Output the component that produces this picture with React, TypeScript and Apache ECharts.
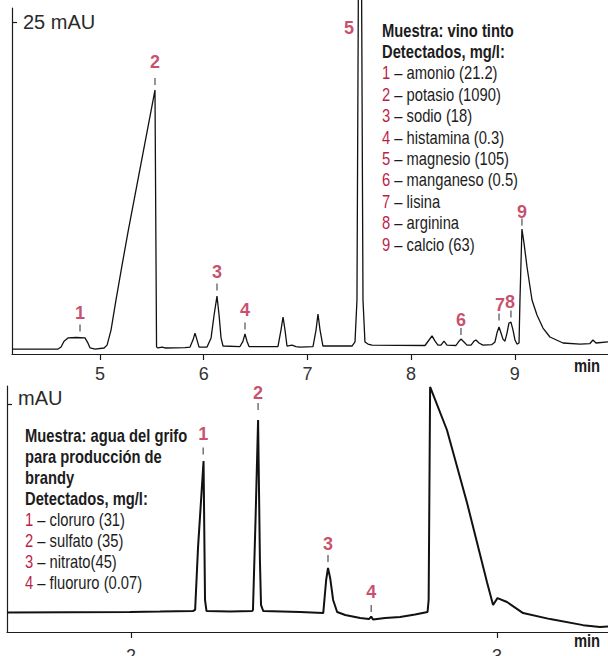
import React, { useEffect, useRef } from 'react';
import * as echarts from 'echarts';

// ---- Top chromatogram: red wine (time in min, signal in mAU) ----
const wineTrace: [number, number][] = [
  [4.151, 0], [4.595, 0], [4.624, 0.15], [4.653, 0.6], [4.691, 0.85], [4.769, 0.88], [4.855, 0.85],
  [4.884, 0.45], [4.904, 0.08], [4.952, 0], [5.039, 0.08], [5.068, 0.3], [5.106, 1.45], [5.154, 3.75],
  [5.212, 6.4], [5.27, 8.95], [5.53, 19.8], [5.545, 0.15], [5.559, 0.08], [5.598, 0.15], [5.627, 0.08],
  [5.82, 0.1], [5.868, 0.15], [5.897, 0.7], [5.916, 1.22], [5.935, 0.7], [5.955, 0.15], [6.032, 0.15],
  [6.071, 0.85], [6.1, 2.6], [6.128, 4.05], [6.148, 2.6], [6.167, 0.85], [6.186, 0.23], [6.35, 0.19],
  [6.379, 0.6], [6.398, 1.15], [6.417, 0.6], [6.437, 0.19], [6.716, 0.19], [6.745, 1.45], [6.765, 2.45],
  [6.784, 1.45], [6.803, 0.23], [6.851, 0.3], [6.89, 0.19], [6.929, 0.15], [7.054, 0.19], [7.083, 1.45],
  [7.102, 2.68], [7.122, 1.45], [7.15, 0.23], [7.43, 0.23], [7.459, 0.54], [7.478, 3.75], [7.491, 26.68],
  [7.505, 32.8], [7.523, 26.68], [7.536, 3.75], [7.555, 0.54], [7.584, 0.38], [7.623, 0.3], [8.134, 0.27],
  [8.173, 0.69], [8.202, 1.0], [8.231, 0.6], [8.259, 0.3], [8.288, 0.3], [8.317, 0.6], [8.346, 0.3],
  [8.433, 0.27], [8.462, 0.6], [8.481, 0.76], [8.51, 0.54], [8.539, 0.3], [8.578, 0.3], [8.607, 0.6],
  [8.626, 0.69], [8.655, 0.46], [8.693, 0.3], [8.78, 0.34], [8.809, 0.54], [8.828, 1.22], [8.848, 1.68],
  [8.867, 1.22], [8.886, 0.76], [8.905, 0.6], [8.925, 1.22], [8.944, 1.99], [8.963, 2.06], [8.983, 1.45],
  [9.002, 0.69], [9.021, 0.38], [9.041, 0.46], [9.05, 3.75], [9.069, 9.17], [9.089, 8.1], [9.118, 6.27],
  [9.166, 3.75], [9.214, 2.6], [9.272, 1.6], [9.339, 0.92], [9.465, 0.46], [9.629, 0.38], [9.725, 0.42],
  [9.754, 0.69], [9.783, 0.46], [9.899, 0.54],
];
const winePeakIds = ['1', '2', '3', '4', '5', '6', '7', '8', '9'];
const wineLabelPos: [number, number][] = [
  [4.807, 2.79], [5.53, 21.98], [6.128, 5.89], [6.398, 3.02], [7.401, 24.54],
  [8.481, 2.22], [8.857, 3.36], [8.954, 3.59], [9.069, 10.47],
];
const wineDashPos: [number, number][] = [
  [4.807, 1.61], [5.53, 20.45], [6.128, 4.74], [6.398, 1.76],
  [8.481, 1.34], [8.848, 2.45], [8.963, 2.68], [9.069, 9.71],
];
const wineTicks = [5, 6, 7, 8, 9];
const wineYTick = [25];
const wineHeader = ['Muestra: vino tinto', 'Detectados, mg/l:'];
const wineItems = [
  'amonio (21.2)', 'potasio (1090)', 'sodio (18)', 'histamina (0.3)', 'magnesio (105)',
  'manganeso (0.5)', 'lisina', 'arginina', 'calcio (63)',
];

// ---- Bottom chromatogram: tap water ----
const waterTrace: [number, number][] = [
  [1.661, -0.02], [1.997, 0], [2.079, 0.02], [2.169, 0.05], [2.175, 0.1], [2.183, 3.13], [2.193, 5.87],
  [2.198, 7.26], [2.202, 0.58], [2.206, 0.05], [2.27, 0.02], [2.331, 0.05], [2.333, 0.1], [2.34, 4.42],
  [2.347, 9.23], [2.352, 2.5], [2.355, 0.34], [2.361, 0.05], [2.462, 0], [2.525, -0.05], [2.527, 0.34],
  [2.533, 1.54], [2.538, 2.12], [2.544, 1.63], [2.552, 0.58], [2.563, 0], [2.585, -0.14], [2.626, -0.29],
  [2.65, -0.34], [2.656, -0.22], [2.661, -0.36], [2.694, -0.29], [2.735, -0.24], [2.776, -0.12], [2.81, 0],
  [2.813, 0.58], [2.817, 10.82], [2.863, 8.75], [2.918, 5.24], [2.973, 1.39], [2.989, 0.34], [3.001, 0.67],
  [3.027, 0.48], [3.071, -0.05], [3.145, -0.34], [3.235, -0.63], [3.281, -0.72], [3.303, -0.7],
];
const waterPeakIds = ['1', '2', '3', '4'];
const waterLabelPos: [number, number][] = [[2.197, 8.56], [2.347, 10.55], [2.538, 3.29], [2.656, 0.94]];
const waterDashPos: [number, number][] = [[2.197, 7.74], [2.347, 9.88], [2.538, 2.57], [2.656, 0.17]];
const waterTicks = [2, 3];
const waterYTick = [10];
const waterHeader = ['Muestra: agua del grifo', 'para producción de', 'brandy', 'Detectados, mg/l:'];
const waterItems = ['cloruro (31)', 'sulfato (35)', 'nitrato(45)', 'fluoruro (0.07)'];

const RED = '#bb1f47';
const INK = '#1c1c1c';
const SANS = '"Liberation Sans", Arial, sans-serif';
const NARROW_SCALE = 0.82;

function legendBlock(x: number, y0: number, step: number, header: string[], ids: string[], items: string[]) {
  const els: any[] = [];
  header.forEach((h, i) => {
    els.push({
      type: 'text', x, y: y0 + i * step, scaleX: NARROW_SCALE, silent: true,
      style: { text: h, fontSize: 18, fontFamily: SANS, fontWeight: 'bold', fill: INK, verticalAlign: 'middle' },
    });
  });
  items.forEach((it, i) => {
    els.push({
      type: 'text', x, y: y0 + (header.length + i) * step, scaleX: NARROW_SCALE, silent: true,
      style: {
        text: `{n|${ids[i]}} – ${it}`, fontSize: 18, fontFamily: SANS, fill: INK, verticalAlign: 'middle',
        rich: { n: { fill: RED, fontSize: 18, fontFamily: SANS } },
      },
    });
  });
  return els;
}

export default function App() {
  const ref = useRef<HTMLDivElement>(null);
  useEffect(() => {
    if (!ref.current) return;
    const chart = echarts.init(ref.current, undefined, { renderer: 'svg' });
    const axisLineStyle = { color: INK, width: 1.2 };
    const xAxisBase = (gridIndex: number, min: number, max: number, ticks: number[], margin: number) => ({
      gridIndex, type: 'value', min, max,
      axisLine: { show: true, onZero: false, lineStyle: axisLineStyle },
      axisTick: { show: true, customValues: ticks, length: 6, lineStyle: axisLineStyle },
      axisLabel: { show: true, customValues: ticks, fontSize: 18, color: '#333', fontFamily: SANS, margin },
      splitLine: { show: false },
    });
    const yAxisBase = (gridIndex: number, min: number, max: number, ticks: number[], fmt: string, va: string, lh: number) => ({
      gridIndex, type: 'value', min, max,
      axisLine: { show: true, onZero: false, lineStyle: axisLineStyle },
      axisTick: { show: true, inside: true, customValues: ticks, length: 5, lineStyle: axisLineStyle },
      axisLabel: {
        show: true, inside: true, customValues: ticks, formatter: fmt, fontSize: 20, color: '#2a2a2a',
        fontFamily: SANS, margin: 11, verticalAlign: va, lineHeight: lh,
      },
      splitLine: { show: false },
    });
    const labelSeries = (xi: number, ids: string[], pos: [number, number][]) => ({
      type: 'scatter', xAxisIndex: xi, yAxisIndex: xi, silent: true, symbolSize: 2,
      itemStyle: { color: 'rgba(0,0,0,0)' },
      label: {
        show: true, position: 'inside', formatter: '{b}', color: RED, fontSize: 18, fontWeight: 'bold',
        fontFamily: SANS,
      },
      labelLayout: { hideOverlap: false },
      data: pos.map((p, i) => ({ name: ids[i], value: p })),
      z: 5,
    });
    const dashSeries = (xi: number, pos: [number, number][]) => ({
      type: 'scatter', xAxisIndex: xi, yAxisIndex: xi, silent: true, symbol: 'rect', symbolSize: [1.3, 7],
      itemStyle: { color: '#333' },
      data: pos,
    });
    chart.setOption({
      animation: false,
      grid: [
        { left: 12, top: 8, width: 596, height: 346, outerBoundsMode: 'none', containLabel: false },
        { left: 7, top: 386, width: 601, height: 246, outerBoundsMode: 'none', containLabel: false },
      ],
      xAxis: [xAxisBase(0, 4.151, 9.899, wineTicks, 11), xAxisBase(1, 1.661, 3.303, waterTicks, 15)],
      yAxis: [
        yAxisBase(0, -0.38, 26.07, wineYTick, '{value} mAU', 'middle', 20),
        yAxisBase(1, -0.96, 10.865, waterYTick, 'mAU', 'bottom', 12),
      ],
      series: [
        {
          type: 'line', xAxisIndex: 0, yAxisIndex: 0, data: wineTrace, showSymbol: false, clip: false,
          lineStyle: { color: '#111', width: 1.3 }, silent: true,
        },
        {
          type: 'line', xAxisIndex: 1, yAxisIndex: 1, data: waterTrace, showSymbol: false, clip: false,
          lineStyle: { color: '#111', width: 2 }, silent: true,
        },
        dashSeries(0, wineDashPos),
        dashSeries(1, waterDashPos),
        labelSeries(0, winePeakIds, wineLabelPos),
        labelSeries(1, waterPeakIds, waterLabelPos),
      ],
      graphic: [
        ...legendBlock(382, 30, 21.4, wineHeader, winePeakIds, wineItems),
        ...legendBlock(25, 435, 21, waterHeader, waterPeakIds, waterItems),
        {
          type: 'text', x: 587, y: 365, scaleX: NARROW_SCALE, silent: true,
          style: { text: 'min', fontSize: 18, fontWeight: 'bold', fontFamily: SANS, fill: INK, align: 'center', verticalAlign: 'middle' },
        },
        {
          type: 'text', x: 587, y: 640, scaleX: NARROW_SCALE, silent: true,
          style: { text: 'min', fontSize: 18, fontWeight: 'bold', fontFamily: SANS, fill: INK, align: 'center', verticalAlign: 'middle' },
        },
      ],
    });
    return () => chart.dispose();
  }, []);
  return <div ref={ref} style={{ position: 'fixed', left: 0, top: 0, width: 608, height: 656, background: '#fff' }} />;
}
